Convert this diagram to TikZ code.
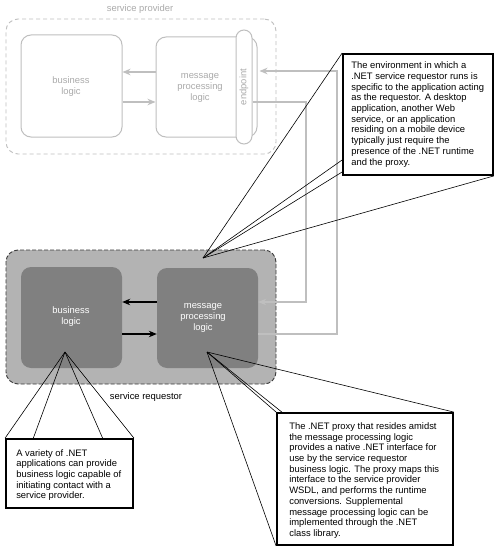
\documentclass[tikz,border=0pt]{standalone}
\usepackage{fontspec}
\setmainfont{Liberation Sans}
\usetikzlibrary{arrows.meta}
\definecolor{pgray}{HTML}{BFBFBF}
\definecolor{ptext}{HTML}{AAAAAA}
\definecolor{rfill}{HTML}{B3B3B3}
\definecolor{rinner}{HTML}{808080}
\definecolor{rdash}{HTML}{3A3A3A}
\begin{document}
\begin{tikzpicture}[x=1pt,y=-1pt,
  font=\fontsize{9.4}{10.7}\selectfont,
  pouter/.style={draw=pgray, line width=0.9pt, rounded corners=12pt, dash pattern=on 4pt off 3pt},
  pbox/.style={draw=pgray, line width=1pt, rounded corners=10pt, fill=white},
  ptxt/.style={text=ptext, align=center, inner sep=0pt},
  parr/.style={draw=pgray, line width=1.2pt, -{Stealth[length=8pt,width=6.5pt]}},
  router/.style={draw=rdash, fill=rfill, dash pattern=on 4pt off 2pt, line width=0.9pt, rounded corners=12pt},
  rbox/.style={fill=rinner, rounded corners=10pt},
  rtxt/.style={text=white, align=center, inner sep=0pt},
  rarr/.style={draw=black, line width=1.2pt, -{Stealth[length=8pt,width=6.5pt]}},
  cbox/.style={draw=black, line width=1.8pt, fill=white},
  ctext/.style={align=left, inner sep=0pt, anchor=west, text=black},
  pointer/.style={draw=black, line width=0.6pt}
]
\useasboundingbox (0,0) rectangle (500,551);
\fill[white] (0,0) rectangle (500,551);

% helper coordinates
\coordinate (ya) at (0,72);
\coordinate (yb) at (0,102);
\coordinate (y71) at (0,71);
\coordinate (y302) at (0,302);
\coordinate (y334) at (0,334);
\coordinate (xa) at (306,0);
\coordinate (xb) at (337,0);

% ---------- service provider ----------
\node[pouter, minimum width=270pt, minimum height=135pt] (pout) at (141,86.5) {};
\node[ptxt] (plabel) at (140,9) {service provider};
\node[pbox, minimum width=101pt, minimum height=102pt] (pbiz) at (71.5,86) {};
\node[ptxt] (pbizt) at (71,86.5) {business\\logic};
\node[pbox, minimum width=101pt, minimum height=100pt] (pmpl) at (206.5,87) {};
\node[ptxt] (pmplt) at (200,88) {message\\processing\\logic};

\draw[parr] (pmpl.west |- ya) -- (pbiz.east |- ya);
\draw[parr] (pbiz.east |- yb) -- (pmpl.west |- yb);

% ---------- service requestor ----------
\node[router, minimum width=270pt, minimum height=134pt] (rout) at (141,317) {};
\node[rbox, minimum width=101pt, minimum height=101pt] (rbiz) at (71.5,317.5) {};
\node[rtxt] (rbizt) at (71,316.5) {business\\logic};
\node[rbox, minimum width=101pt, minimum height=100pt] (rmpl) at (207.5,318) {};
\node[rtxt] (rmplt) at (203,318) {message\\processing\\logic};
\node[inner sep=0pt] (rlabel) at (146,397) {service requestor};

\draw[rarr] (rmpl.west |- y302) -- (rbiz.east |- y302);
\draw[rarr] (rbiz.east |- y334) -- (rmpl.west |- y334);

% ---------- endpoint (over the provider box) ----------
\node[pbox, rounded corners=8pt, minimum width=16pt, minimum height=114pt] (pend) at (244,87) {};
\node[ptxt, rotate=90] (pendt) at (pend.center) {endpoint};

% ---------- links between provider and requestor ----------
\draw[parr] (pend.east |- yb) -- (xa |- yb) -- (xa |- y302) -- (rmpl.east |- y302);
\draw[parr] (rmpl.east |- y334) -- (xb |- y334) -- (xb |- y71) -- ([xshift=7pt]pend.east |- y71);

% ---------- callouts ----------
\coordinate (p1) at (203,258);
\coordinate (p2) at (65,352);
\coordinate (p3) at (207,352);

\node[cbox, minimum width=150pt, minimum height=121pt] (c1) at (418,114.5) {};
\draw[pointer] (p1) -- (c1.north west);
\draw[pointer] (p1) -- (c1.west |- 0,160);
\draw[pointer] (p1) -- (c1.west |- 0,172);
\draw[pointer] (p1) -- (c1.south east);
\node[ctext] (c1t) at ([xshift=9pt]c1.west) {The environment in which a\\.NET service requestor runs is\\specific to the application acting\\as the requestor. A desktop\\application, another Web\\service, or an application\\residing on a mobile device\\typically just require the\\presence of the .NET runtime\\and the proxy.};

\node[cbox, minimum width=127pt, minimum height=69pt] (c2) at (69.5,473.5) {};
\draw[pointer] (p2) -- (c2.north west);
\draw[pointer] (p2) -- (33,439);
\draw[pointer] (p2) -- (103,439);
\draw[pointer] (p2) -- (c2.north east);
\node[ctext] (c2t) at ([xshift=11pt,yshift=-1.5pt]c2.west) {A variety of .NET\\applications can provide\\business logic capable of\\initiating contact with a\\service provider.};

\node[cbox, minimum width=176pt, minimum height=132pt] (c3) at (365,479) {};
\draw[pointer] (p3) -- (c3.north west);
\draw[pointer] (p3) -- (283,413);
\draw[pointer] (p3) -- (c3.south west);
\draw[pointer] (p3) -- (c3.north east);
\node[ctext] (c3t) at ([xshift=13pt,yshift=-1.5pt]c3.west) {The .NET proxy that resides amidst\\the message processing logic\\provides a native .NET interface for\\use by the service requestor\\business logic. The proxy maps this\\interface to the service provider\\WSDL, and performs the runtime\\conversions. Supplemental\\message processing logic can be\\implemented through the .NET\\class library.};
\end{tikzpicture}
\end{document}
